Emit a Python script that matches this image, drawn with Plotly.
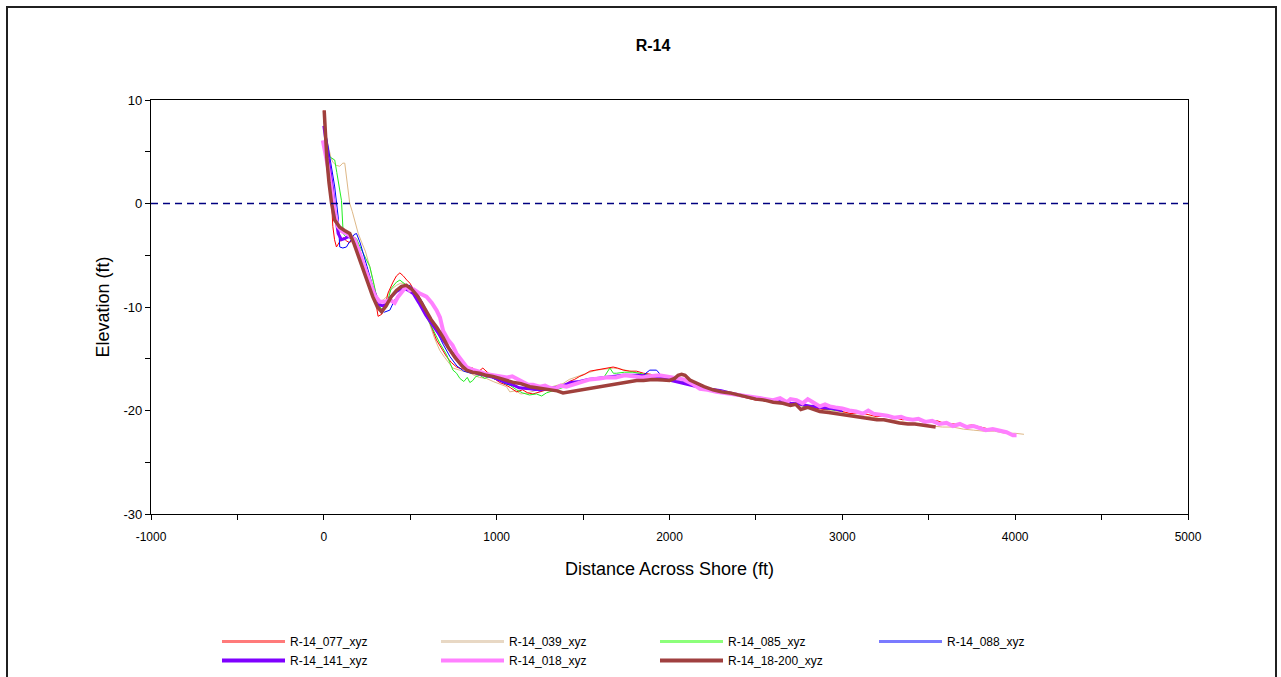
import plotly.graph_objects as go

# Beach profile surveys for monument R-14: (distance across shore ft, elevation ft)
R14_077 = [(0, 9.0), (5, 7.0), (15, 4.5), (30, 2.0), (44, 0.3), (52, -2.2), (62, -3.5), (73, -4.2), (85, -3.8),
           (95, -3.6), (112, -3.3), (130, -3.6), (150, -3.8), (168, -3.2), (185, -4.0), (210, -5.0), (237, -6.1),
           (265, -7.6), (295, -9.0), (314, -10.9), (335, -10.7), (355, -10.0), (370, -8.7), (400, -7.6), (420, -7.0),
           (440, -6.7), (460, -7.0), (480, -7.4), (498, -7.7), (530, -8.6), (560, -9.6), (600, -10.9), (652, -13.2),
           (680, -14.0), (710, -14.8), (740, -15.4), (768, -15.8), (800, -16.0), (830, -15.9), (862, -15.9),
           (890, -16.3), (920, -15.9), (950, -16.4), (985, -16.9), (1018, -17.3), (1050, -17.5), (1080, -17.8),
           (1115, -18.2), (1150, -18.0), (1180, -18.3), (1210, -18.4), (1250, -18.2), (1290, -18.0), (1330, -17.9),
           (1384, -17.7), (1420, -17.2), (1450, -17.0), (1481, -16.7), (1510, -16.5), (1539, -16.2), (1570, -16.1),
           (1600, -16.0), (1636, -15.9), (1674, -15.8), (1700, -15.9), (1732, -16.1), (1770, -16.2), (1809, -16.2),
           (1850, -16.4), (1890, -16.5), (1930, -16.7), (1970, -16.8), (2010, -16.9), (2050, -17.1), (2100, -17.3),
           (2150, -17.6), (2200, -17.8), (2250, -18.0), (2300, -18.2), (2350, -18.4), (2400, -18.6), (2450, -18.8),
           (2500, -19.0), (2550, -18.9), (2600, -19.2), (2650, -19.3), (2700, -19.5), (2750, -19.4), (2800, -19.7),
           (2850, -19.8), (2900, -19.9), (2950, -19.9), (3000, -20.1), (3050, -20.3), (3100, -20.2), (3150, -20.4),
           (3200, -20.6), (3250, -20.5), (3300, -20.7), (3350, -20.9), (3400, -20.8), (3450, -21.0), (3500, -21.1),
           (3550, -21.0), (3600, -21.3), (3650, -21.3), (3700, -21.5), (3750, -21.4), (3800, -21.6), (3850, -21.8)]

R14_039 = [(0, 7.5), (20, 6.0), (40, 4.5), (52, 4.0), (70, 3.7), (92, 3.6), (110, 3.9), (121, 3.9), (135, 2.0),
           (150, 0.0), (165, -0.8), (179, -1.6), (199, -2.9), (220, -3.8), (240, -4.6), (266, -6.1), (285, -7.5),
           (305, -9.0), (324, -9.5), (345, -9.3), (363, -9.0), (390, -8.3), (421, -7.9), (445, -7.7), (463, -7.7),
           (490, -7.9), (520, -8.6), (560, -9.7), (600, -11.0), (640, -13.0), (671, -14.2), (700, -14.9),
           (747, -15.9), (780, -16.1), (805, -16.2), (840, -16.3), (870, -16.6), (900, -16.8), (940, -16.9),
           (980, -17.2), (1020, -17.5), (1057, -17.7), (1076, -18.2), (1110, -18.1), (1140, -18.4), (1180, -18.3),
           (1220, -18.1), (1260, -17.9), (1300, -17.8), (1340, -17.6), (1384, -17.4), (1420, -17.0), (1450, -16.8),
           (1481, -16.6), (1520, -16.4), (1578, -16.1), (1620, -16.0), (1674, -15.9), (1720, -16.0), (1771, -16.2),
           (1820, -16.4), (1870, -16.6), (1920, -16.8), (1970, -16.9), (2020, -17.0), (2080, -17.2), (2140, -17.5),
           (2200, -17.8), (2260, -18.0), (2320, -18.2), (2380, -18.4), (2440, -18.6), (2500, -18.8), (2560, -19.0),
           (2620, -19.2), (2680, -19.3), (2740, -19.5), (2800, -19.7), (2860, -19.8), (2920, -20.0), (2980, -20.1),
           (3040, -20.3), (3100, -20.5), (3160, -20.6), (3220, -20.8), (3280, -20.9), (3340, -21.1), (3400, -21.2),
           (3460, -21.3), (3520, -21.5), (3580, -21.6), (3640, -21.6), (3700, -21.8), (3760, -21.9), (3820, -22.0),
           (3880, -22.0), (3940, -22.2), (4000, -22.2), (4051, -22.3)]

R14_085 = [(10, 6.0), (30, 4.6), (44, 4.4), (63, 4.2), (75, 3.0), (90, 1.5), (102, 0.3), (112, -2.9), (130, -3.3),
           (150, -3.0), (170, -3.2), (189, -3.4), (210, -4.2), (240, -5.2), (266, -6.1), (290, -7.8), (305, -9.0),
           (325, -10.0), (340, -10.3), (365, -9.6), (390, -8.2), (420, -7.6), (440, -7.4), (470, -7.8), (500, -8.3),
           (540, -9.3), (580, -10.5), (620, -11.8), (671, -13.5), (710, -14.6), (747, -16.1), (768, -16.4),
           (787, -16.9), (810, -17.2), (830, -16.8), (845, -17.3), (862, -17.1), (880, -16.7), (903, -16.6),
           (930, -16.9), (960, -16.7), (990, -17.0), (1018, -17.0), (1050, -17.4), (1080, -17.6), (1115, -18.0),
           (1150, -18.3), (1190, -18.5), (1230, -18.4), (1260, -18.6), (1288, -18.3), (1330, -18.1), (1380, -17.8),
           (1424, -17.5), (1470, -17.3), (1520, -17.1), (1578, -16.9), (1620, -16.8), (1655, -15.9), (1675, -16.4),
           (1694, -16.4), (1740, -16.3), (1788, -16.3), (1826, -16.4), (1860, -16.5), (1904, -16.7), (1950, -16.9),
           (2000, -17.0), (2060, -17.2), (2118, -17.4), (2180, -17.7), (2240, -17.9), (2300, -18.1), (2349, -18.3),
           (2400, -18.5), (2450, -18.6), (2500, -18.8), (2560, -18.9), (2600, -19.1), (2639, -19.0), (2680, -19.4),
           (2730, -19.3), (2780, -19.6), (2830, -19.5), (2880, -19.8), (2930, -19.9), (2960, -20.0)]

R14_088 = [(0, 8.0), (15, 6.5), (35, 4.2), (50, 2.8), (63, 1.6), (83, -1.3), (92, -4.2), (110, -4.3), (131, -4.2),
           (145, -3.8), (160, -3.5), (175, -3.0), (189, -2.9), (210, -3.8), (228, -4.8), (250, -6.0), (266, -7.1),
           (285, -8.1), (305, -9.0), (324, -10.3), (350, -10.5), (382, -10.3), (410, -9.3), (440, -8.7), (470, -8.1),
           (498, -7.9), (530, -8.5), (570, -9.5), (610, -10.9), (650, -12.3), (690, -13.6), (730, -14.8),
           (770, -15.7), (810, -16.2), (850, -16.4), (890, -16.3), (930, -16.6), (970, -16.8), (1010, -17.1),
           (1050, -17.4), (1090, -17.6), (1130, -17.8), (1170, -17.9), (1210, -18.0), (1250, -18.1), (1300, -17.9),
           (1340, -17.8), (1384, -17.7), (1430, -17.5), (1480, -17.3), (1530, -17.1), (1578, -17.0), (1630, -16.8),
           (1680, -16.7), (1732, -16.6), (1790, -16.6), (1848, -16.6), (1886, -16.1), (1925, -16.1), (1962, -16.8),
           (2000, -16.9), (2060, -17.1), (2120, -17.4), (2180, -17.7), (2240, -17.9), (2300, -18.1), (2360, -18.3),
           (2420, -18.5), (2480, -18.7), (2540, -18.9), (2600, -19.0), (2660, -19.2), (2720, -19.3), (2780, -19.5),
           (2840, -19.6), (2900, -19.8), (2960, -19.9), (3003, -20.1)]

R14_141 = [(0, 7.5), (6, 6.8), (20, 5.0), (35, 3.6), (50, 1.5), (63, -0.6), (73, -1.9), (83, -2.9), (102, -3.5),
           (120, -3.4), (141, -3.2), (160, -3.3), (179, -3.5), (200, -4.4), (228, -5.8), (260, -7.3), (295, -8.7),
           (324, -9.8), (345, -9.9), (363, -9.6), (390, -9.0), (421, -8.5), (440, -8.3), (460, -8.2), (490, -8.4),
           (517, -8.7), (550, -9.6), (590, -10.8), (640, -12.0), (689, -13.2), (740, -14.4), (787, -15.4),
           (830, -16.0), (884, -16.4), (930, -16.6), (980, -16.8), (1030, -17.1), (1080, -17.4), (1130, -17.8),
           (1192, -17.9), (1250, -18.0), (1300, -17.9), (1340, -17.8), (1384, -17.6), (1430, -17.3), (1480, -17.2),
           (1530, -17.0), (1578, -16.9), (1630, -16.8), (1680, -16.7), (1730, -16.6), (1771, -16.6), (1820, -16.6),
           (1870, -16.7), (1920, -16.8), (1962, -16.9), (2010, -17.1), (2060, -17.3), (2110, -17.5), (2157, -17.7),
           (2210, -17.9), (2260, -18.0), (2300, -18.1), (2349, -18.3), (2400, -18.5), (2460, -18.7), (2520, -18.8),
           (2580, -19.0), (2640, -19.1), (2700, -19.3), (2760, -19.4), (2820, -19.6), (2880, -19.7), (2940, -19.8),
           (3000, -20.0)]

R14_018 = [(-6, 6.1), (10, 4.8), (23, 3.6), (38, 2.0), (52, 0.3), (66, -1.1), (81, -2.2), (105, -2.7), (131, -2.9),
           (155, -3.2), (179, -3.5), (205, -4.7), (235, -6.2), (265, -7.6), (295, -8.9), (324, -9.5), (350, -9.5),
           (382, -9.3), (410, -9.6), (430, -9.0), (455, -8.5), (478, -8.0), (498, -8.4), (520, -8.3), (556, -8.7),
           (594, -9.0), (625, -9.6), (652, -10.3), (672, -11.0), (690, -12.3), (720, -13.2), (745, -13.7),
           (768, -14.5), (790, -15.0), (806, -15.4), (826, -15.8), (850, -16.0), (880, -16.2), (910, -16.3),
           (945, -16.5), (982, -16.6), (1020, -16.7), (1060, -16.8), (1090, -16.7), (1115, -16.9), (1150, -17.2),
           (1180, -17.5), (1210, -17.5), (1250, -17.7), (1280, -17.6), (1307, -17.8), (1340, -17.9), (1370, -17.6),
           (1404, -17.7), (1440, -17.5), (1470, -17.3), (1500, -17.2), (1540, -17.0), (1597, -16.9), (1640, -16.8),
           (1690, -16.8), (1740, -16.6), (1790, -16.7), (1840, -16.8), (1890, -16.7), (1940, -16.6), (1983, -16.7),
           (2030, -16.8), (2080, -17.0), (2130, -17.4), (2176, -17.9), (2220, -18.0), (2270, -18.2), (2320, -18.3),
           (2369, -18.4), (2420, -18.5), (2470, -18.7), (2520, -18.8), (2561, -18.9), (2600, -19.0), (2640, -18.8),
           (2680, -19.2), (2700, -18.9), (2735, -19.0), (2770, -19.3), (2800, -18.9), (2830, -19.2), (2870, -19.6),
           (2900, -19.4), (2928, -19.6), (2960, -19.7), (3000, -19.8), (3040, -20.0), (3080, -20.1), (3119, -20.3),
           (3150, -20.0), (3180, -20.3), (3220, -20.4), (3260, -20.5), (3300, -20.7), (3340, -20.6), (3370, -20.8),
           (3408, -20.9), (3440, -20.8), (3480, -21.1), (3520, -21.0), (3560, -21.3), (3603, -21.2), (3640, -21.5),
           (3680, -21.3), (3720, -21.6), (3760, -21.5), (3796, -21.7), (3830, -21.9), (3870, -21.8), (3910, -22.0),
           (3950, -22.1), (3987, -22.4), (4008, -22.4)]

R14_18_200 = [(2, 9.0), (8, 6.5), (18, 4.2), (30, 2.0), (45, 0.0), (63, -1.6), (78, -2.0), (92, -2.3), (120, -2.6),
              (150, -2.9), (175, -3.9), (208, -5.5), (245, -7.2), (283, -9.0), (310, -10.0), (334, -10.45),
              (360, -9.9), (390, -9.0), (420, -8.4), (450, -8.0), (478, -7.9), (510, -8.3), (545, -9.0), (580, -10.0),
              (620, -11.2), (655, -12.0), (689, -12.9), (720, -13.9), (760, -14.9), (800, -15.7), (826, -16.1),
              (860, -16.3), (900, -16.4), (940, -16.6), (978, -16.7), (1020, -16.9), (1060, -17.1), (1100, -17.3),
              (1140, -17.4), (1192, -17.7), (1231, -17.8), (1270, -17.9), (1310, -18.0), (1350, -18.1), (1384, -18.3),
              (1420, -18.2), (1460, -18.1), (1500, -18.0), (1540, -17.9), (1578, -17.8), (1620, -17.6), (1660, -17.5),
              (1700, -17.4), (1740, -17.3), (1771, -17.2), (1810, -17.1), (1850, -17.1), (1900, -17.0), (1962, -17.05),
              (2000, -17.1), (2030, -16.9), (2050, -16.6), (2070, -16.5), (2090, -16.6), (2118, -17.05), (2150, -17.3),
              (2200, -17.7), (2252, -18.0), (2300, -18.2), (2350, -18.3), (2400, -18.5), (2446, -18.7), (2500, -18.9),
              (2550, -19.0), (2600, -19.2), (2656, -19.3), (2700, -19.5), (2730, -19.4), (2760, -19.9), (2800, -19.7),
              (2870, -20.1), (2920, -20.2), (2960, -20.3), (3000, -20.4), (3050, -20.5), (3080, -20.6), (3119, -20.7),
              (3160, -20.8), (3200, -20.9), (3240, -20.9), (3293, -21.1), (3330, -21.2), (3380, -21.3), (3420, -21.3),
              (3460, -21.4), (3500, -21.5), (3540, -21.6)]

SERIES_NAMES = ["R-14_077_xyz", "R-14_141_xyz", "R-14_039_xyz", "R-14_018_xyz",
                "R-14_085_xyz", "R-14_18-200_xyz", "R-14_088_xyz"]
SERIES_DATA = [R14_077, R14_141, R14_039, R14_018, R14_085, R14_18_200, R14_088]
SERIES_COLORS = ["#FF0000", "#7F00FF", "#DEB887", "#FF80FF", "#22EE22", "#A0403C", "#0000FF"]
SERIES_WIDTHS = [1.0, 3.0, 1.0, 4.0, 1.0, 3.5, 1.0]
# legend key styling (key lines are drawn bolder than the thin profiles)
LEGEND_COLORS = ["#FF7A7A", "#7F00FF", "#E8D8C4", "#FF80FF", "#8CFF7A", "#A04040", "#7A7AFF"]
LEGEND_WIDTHS = [3, 4, 3, 4, 3, 4, 3]
# legend is filled row by row: 077, 039, 085, 088 / 141, 018, 18-200
LEGEND_RANK = [1, 5, 2, 6, 3, 7, 4]

X_TICKS = [-1000, 0, 1000, 2000, 3000, 4000, 5000]
Y_TICKS = [-30, -20, -10, 0, 10]

FONT = "Arial, Liberation Sans, sans-serif"

fig = go.Figure()

# thin lines first, thick ones stacked on top
draw_order = [2, 0, 4, 6, 1, 3, 5]
for i in draw_order:
    pts = SERIES_DATA[i]
    fig.add_trace(go.Scatter(
        x=[p[0] for p in pts], y=[p[1] for p in pts],
        mode="lines", name=SERIES_NAMES[i], showlegend=False, legendgroup=SERIES_NAMES[i],
        line=dict(color=SERIES_COLORS[i], width=SERIES_WIDTHS[i]),
    ))

# legend keys (no data of their own)
for i in range(len(SERIES_NAMES)):
    fig.add_trace(go.Scatter(
        x=[None], y=[None], mode="lines", name=SERIES_NAMES[i],
        legendgroup=SERIES_NAMES[i], legendrank=LEGEND_RANK[i],
        line=dict(color=LEGEND_COLORS[i], width=LEGEND_WIDTHS[i]),
    ))

# mean water level reference
fig.add_shape(type="line", xref="paper", x0=0, x1=1, yref="y", y0=0, y1=0,
              line=dict(color="#000080", width=1.5, dash="7px,5px"), layer="above")

# outer frame around the whole chart
L, R, T, B = 151, 93, 100, 163
W, H = 1281, 677
pw, ph = W - L - R, H - T - B
fig.add_shape(type="rect", xref="paper", yref="paper",
              x0=(7 - L) / pw, x1=(1276 - L) / pw,
              y0=(H - B - 720) / ph, y1=(H - B - 7) / ph,
              line=dict(color="#202020", width=2), fillcolor="rgba(0,0,0,0)")

fig.update_layout(
    width=W, height=H,
    margin=dict(l=L, r=R, t=T, b=B, autoexpand=False),
    paper_bgcolor="white", plot_bgcolor="white",
    font=dict(family=FONT, color="black", size=13),
    title=dict(text="<b>R-14</b>", x=(653 - L) / pw, xref="paper", xanchor="center",
               y=1 - 45 / H, yanchor="middle", font=dict(size=16, family=FONT)),
    showlegend=True,
    legend=dict(orientation="h", x=(217 - L) / pw, xanchor="left",
                yref="container", y=1 - 627 / H, yanchor="top",
                itemwidth=63, entrywidth=141, entrywidthmode="pixels",
                font=dict(size=12, family=FONT), tracegroupgap=0,
                bgcolor="rgba(0,0,0,0)", traceorder="normal"),
    xaxis=dict(range=[-1000, 5000], tickmode="array", tickvals=X_TICKS,
               ticktext=[str(v) for v in X_TICKS], ticks="outside", ticklen=5,
               tickcolor="black", showline=True, linecolor="black", linewidth=1.2, mirror=True,
               showgrid=False, zeroline=False, tickfont=dict(size=12), automargin=False,
               ticklabelstandoff=6,
               minor=dict(dtick=500, ticks="outside", ticklen=5, tickcolor="black"),
               title=dict(text="Distance Across Shore (ft)", font=dict(size=18), standoff=19)),
    yaxis=dict(range=[-30, 10], tickmode="array", tickvals=Y_TICKS,
               ticktext=[str(v) for v in Y_TICKS], ticks="outside", ticklen=5,
               tickcolor="black", showline=True, linecolor="black", linewidth=1.2, mirror=True,
               showgrid=False, zeroline=False, tickfont=dict(size=13), automargin=False,
               minor=dict(dtick=5, ticks="outside", ticklen=5, tickcolor="black"),
               title=dict(text="Elevation (ft)", font=dict(size=18), standoff=9)),
)

fig.write_html("out.html")
